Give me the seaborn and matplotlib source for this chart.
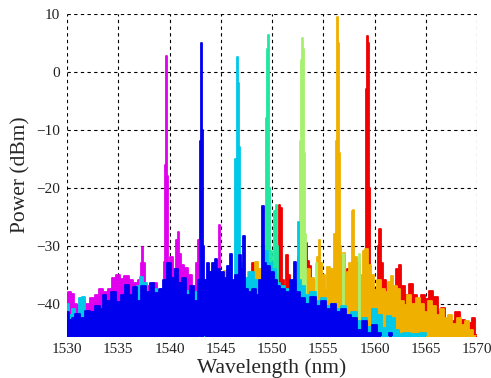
import matplotlib
matplotlib.use("Agg")
import matplotlib.pyplot as plt
import seaborn as sns
import pandas as pd

# ---------------- data (wavelength nm, power dBm) ----------------
x_ticks = [1530, 1535, 1540, 1545, 1550, 1555, 1560, 1565, 1570]
y_ticks = [-40, -30, -20, -10, 0, 10]

red_pts = [(1543.5, -47), (1543.7, -36.0), (1543.85, -34.5), (1544.05, -34.5), (1544.2, -38.0),
           (1545.0, -40.0), (1546.0, -40.0), (1547.0, -39.0), (1547.9, -38.0), (1548.15, -33.0),
           (1548.35, -33.5), (1548.5, -38.0), (1549.0, -38.0), (1549.7, -36.0), (1549.85, -33.0),
           (1550.1, -33.0), (1550.3, -36.0), (1550.6, -35.0), (1550.75, -23.0), (1550.9, -23.5),
           (1551.0, -36.0), (1551.3, -37.0), (1551.45, -31.6), (1551.6, -35.0), (1552.0, -38.0),
           (1552.4, -38.0), (1552.7, -32.0), (1553.0, -30.0), (1553.3, -29.6), (1553.5, -32.6),
           (1553.7, -33.5), (1553.9, -36.0), (1554.5, -38.0), (1555.5, -39.0), (1556.1, -40.0),
           (1556.3, -39.5), (1556.6, -41.0), (1557.2, -39.0), (1557.45, -34.0), (1557.6, -36.0),
           (1558.3, -38.0), (1559.0, -36.0), (1559.15, -33.0), (1559.2, -3.0), (1559.28, 5.0),
           (1559.35, 6.2), (1559.42, 5.0), (1559.48, -20.0), (1559.55, -35.0), (1559.8, -37.5),
           (1560.2, -38.0), (1560.4, -30.0), (1560.55, -27.2), (1560.7, -33.0), (1560.9, -36.0),
           (1561.3, -38.0), (1561.8, -38.0), (1562.3, -34.0), (1562.5, -33.3), (1562.7, -37.0),
           (1563.2, -38.5), (1563.6, -36.6), (1563.9, -38.5), (1564.3, -40.0), (1564.8, -38.5),
           (1565.1, -39.2), (1565.5, -37.8), (1566.0, -38.9), (1566.3, -41.5), (1566.7, -40.8),
           (1567.1, -42.8), (1567.6, -43.0), (1568.1, -41.4), (1568.6, -42.8), (1569.0, -44.0),
           (1569.4, -43.3), (1569.7, -42.5), (1570.0, -45.5)]

orange_pts = [(1544.0, -47), (1545.2, -40.0), (1545.4, -34.4), (1545.7, -36.0), (1545.9, -37.5),
              (1546.5, -39.0), (1547.5, -38.0), (1547.9, -34.5), (1548.2, -35.5), (1548.5, -32.8),
              (1548.8, -34.0), (1549.2, -37.0), (1549.9, -33.5), (1550.3, -33.5), (1550.6, -37.0),
              (1551.0, -39.0), (1551.5, -40.0), (1551.9, -38.5), (1552.3, -38.5), (1552.8, -35.0),
              (1553.2, -35.5), (1553.6, -34.0), (1553.9, -35.5), (1554.3, -36.0), (1554.55, -32.0),
              (1554.65, -29.0), (1554.8, -33.0), (1555.0, -35.0), (1555.3, -37.6), (1555.5, -33.6),
              (1555.9, -34.0), (1556.2, -28.0), (1556.3, -12.0), (1556.35, 2.0), (1556.42, 9.5),
              (1556.5, 5.0), (1556.55, -14.0), (1556.65, -30.0), (1556.8, -32.0), (1557.0, -31.2),
              (1557.2, -35.0), (1557.4, -34.5), (1557.7, -33.0), (1557.85, -24.0), (1557.95, -23.8),
              (1558.1, -32.0), (1558.4, -33.0), (1558.7, -35.0), (1559.0, -31.0), (1559.2, -30.5),
              (1559.5, -33.4), (1559.8, -35.0), (1560.1, -37.6), (1560.4, -36.0), (1560.8, -37.5),
              (1561.2, -38.0), (1561.5, -36.3), (1561.7, -35.3), (1562.0, -37.0), (1562.3, -37.5),
              (1562.7, -39.5), (1563.0, -40.3), (1563.4, -38.5), (1563.8, -40.0), (1564.2, -39.0),
              (1564.6, -40.0), (1565.0, -41.5), (1565.4, -39.5), (1565.8, -40.5), (1566.2, -42.0),
              (1566.6, -41.0), (1567.0, -42.5), (1567.4, -42.0), (1567.8, -43.5), (1568.2, -42.5),
              (1568.6, -43.7), (1569.0, -43.0), (1569.4, -44.5), (1569.8, -45.6), (1570.0, -47)]

lightgreen_pts = [(1552.0, -47), (1552.6, -47), (1552.7, -28.0), (1552.8, -12.0), (1552.9, 2.0),
                  (1553.0, 5.9), (1553.1, 4.0), (1553.2, -14.0), (1553.3, -28.0), (1553.4, -47),
                  (1554.25, -47), (1554.35, -33.0), (1554.45, -47), (1556.9, -47), (1557.0, -31.5),
                  (1557.1, -47), (1558.4, -47), (1558.5, -31.5), (1558.6, -47), (1570.0, -47)]

springgreen_pts = [(1548.8, -47), (1549.2, -38.0), (1549.35, -30.0), (1549.45, -8.0), (1549.55, 4.0),
                   (1549.62, 6.3), (1549.7, 5.0), (1549.78, -20.0), (1549.9, -31.0), (1550.1, -35.0),
                   (1550.3, -24.0), (1550.45, -22.9), (1550.55, -30.0), (1550.7, -38.0), (1551.5, -47),
                   (1570.0, -47)]

magenta_pts = [(1530.0, -39.0), (1530.2, -38.0), (1530.5, -38.3), (1530.8, -40.0), (1531.2, -40.5),
               (1531.6, -39.5), (1532.0, -40.0), (1532.5, -39.0), (1533.0, -38.5), (1533.3, -37.5),
               (1533.8, -38.0), (1534.2, -37.5), (1534.6, -35.5), (1535.0, -35.0), (1535.4, -35.7),
               (1535.8, -35.2), (1536.2, -36.0), (1536.7, -36.5), (1537.1, -36.0), (1537.3, -33.0),
               (1537.4, -30.2), (1537.5, -33.0), (1537.8, -37.0), (1538.2, -37.5), (1538.6, -36.5),
               (1539.0, -38.0), (1539.35, -37.5), (1539.5, -32.8), (1539.6, -16.0), (1539.65, 0.0),
               (1539.7, 2.8), (1539.75, -11.6), (1539.85, -18.0), (1539.95, -33.0), (1540.2, -32.0),
               (1540.5, -34.0), (1540.75, -29.0), (1540.85, -27.6), (1540.95, -31.5), (1541.2, -33.3),
               (1541.6, -33.8), (1542.0, -35.0), (1542.4, -37.0), (1542.7, -33.0), (1542.8, -29.0),
               (1542.9, -35.0), (1543.0, -38.0), (1543.5, -40.0), (1544.0, -40.0), (1544.75, -40.0),
               (1544.85, -26.4), (1544.95, -40.0), (1545.5, -40.0), (1546.0, -37.5), (1546.6, -38.0),
               (1547.0, -40.0), (1548.0, -42.0), (1549.0, -44.0), (1550.0, -47), (1570.0, -47)]

cyan_pts = [(1530.0, -40.0), (1530.3, -42.0), (1530.6, -41.0), (1531.0, -43.0), (1531.3, -39.0),
            (1531.6, -38.9), (1532.0, -42.0), (1532.5, -42.5), (1533.0, -41.5), (1533.4, -42.0),
            (1534.0, -40.5), (1535.0, -40.5), (1536.0, -39.5), (1536.3, -39.0), (1536.6, -41.0),
            (1537.0, -37.0), (1537.3, -35.4), (1537.6, -36.5), (1538.0, -38.5), (1538.6, -37.5),
            (1539.0, -37.8), (1539.4, -38.5), (1540.0, -36.5), (1540.3, -36.3), (1540.6, -38.0),
            (1541.0, -37.0), (1541.5, -38.5), (1541.9, -37.8), (1542.3, -39.0), (1542.7, -38.0),
            (1543.0, -40.0), (1543.3, -41.5), (1543.6, -41.5), (1544.0, -40.0), (1545.0, -39.0),
            (1545.8, -38.0), (1546.3, -37.0), (1546.5, -15.0), (1546.6, 2.5), (1546.7, -2.0),
            (1546.8, -13.0), (1546.9, -33.0), (1547.2, -37.0), (1547.6, -35.5), (1548.0, -34.5),
            (1548.4, -36.0), (1548.8, -37.5), (1549.2, -35.0), (1549.5, -31.0), (1549.8, -33.0),
            (1550.2, -34.0), (1550.6, -36.5), (1551.0, -37.0), (1551.5, -37.5), (1552.0, -38.5),
            (1552.45, -36.0), (1552.55, -26.0), (1552.7, -36.0), (1553.0, -37.0), (1553.5, -38.5),
            (1554.0, -38.0), (1554.5, -39.5), (1555.0, -39.0), (1555.5, -40.5), (1556.0, -40.0),
            (1556.5, -41.0), (1557.0, -40.5), (1557.5, -42.0), (1558.0, -41.5), (1558.5, -43.0),
            (1559.0, -42.5), (1559.5, -44.0), (1560.0, -41.0), (1560.5, -42.0), (1561.0, -44.3),
            (1561.4, -42.2), (1561.8, -42.5), (1562.2, -44.5), (1562.6, -45.3), (1563.0, -45.0),
            (1564.0, -45.3), (1564.8, -45.0), (1565.2, -47), (1570.0, -47)]

blue_pts = [(1530.0, -41.5), (1530.3, -42.8), (1530.6, -42.5), (1531.0, -41.8), (1531.5, -42.5),
            (1532.0, -41.2), (1532.5, -41.5), (1533.0, -40.5), (1533.4, -41.0), (1533.6, -38.5),
            (1534.0, -39.5), (1534.5, -38.0), (1535.0, -39.8), (1535.5, -38.5), (1535.8, -36.8),
            (1536.2, -38.5), (1536.6, -37.2), (1537.0, -39.5), (1537.5, -37.0), (1537.9, -38.0),
            (1538.3, -36.5), (1538.7, -38.2), (1539.2, -37.5), (1539.6, -36.0), (1540.0, -33.0),
            (1540.3, -35.5), (1540.7, -34.0), (1541.0, -36.5), (1541.4, -35.5), (1541.8, -38.5),
            (1542.2, -37.0), (1542.6, -39.5), (1542.9, -36.0), (1543.05, -12.0), (1543.15, 5.0),
            (1543.25, -10.0), (1543.35, -30.0), (1543.45, -47), (1543.55, -36.0), (1543.7, -33.0),
            (1544.0, -34.5), (1544.3, -33.0), (1544.55, -32.3), (1544.8, -34.0), (1545.1, -34.5),
            (1545.5, -35.5), (1545.8, -33.5), (1546.0, -31.4), (1546.2, -36.0), (1546.6, -35.0),
            (1546.9, -31.7), (1547.1, -34.0), (1547.3, -28.3), (1547.5, -37.5), (1547.8, -38.0),
            (1548.2, -37.5), (1548.6, -38.5), (1548.9, -36.0), (1549.1, -23.2), (1549.3, -33.0),
            (1549.6, -33.5), (1550.0, -34.5), (1550.3, -36.0), (1550.6, -37.0), (1551.0, -37.5),
            (1551.5, -38.0), (1552.0, -36.0), (1552.25, -32.9), (1552.5, -38.0), (1553.0, -39.0),
            (1553.5, -40.0), (1554.0, -38.8), (1554.5, -40.5), (1555.0, -39.5), (1555.5, -41.0),
            (1556.0, -40.0), (1556.5, -41.5), (1557.0, -41.0), (1557.5, -42.0), (1558.0, -42.5),
            (1558.5, -44.5), (1559.0, -43.0), (1559.5, -45.0), (1560.0, -43.7), (1560.4, -45.0),
            (1560.8, -47), (1561.3, -47), (1561.6, -45.0), (1561.9, -47), (1570.0, -47)]

# back-to-front drawing order
layers = [red_pts, orange_pts, lightgreen_pts, springgreen_pts, magenta_pts, cyan_pts, blue_pts]
colors = ["#f00000", "#f0b000", "#a8f070", "#20e8a0", "#e000ee", "#00c8e8", "#0000ee"]

# ---------------- plotting ----------------
sns.set_theme(style="white")
plt.rcParams['font.family'] = ['Liberation Serif', 'DejaVu Serif']

fig = plt.figure(figsize=(4.91, 3.78), dpi=100)
ax = fig.add_axes([67 / 491, 1 - 336 / 378, 410 / 491, 322 / 378])

for i, (pts, c) in enumerate(zip(layers, colors)):
    df = pd.DataFrame(pts, columns=["wl", "db"])
    ax.fill_between(df["wl"], df["db"], -50, step="mid", color=c, lw=0, zorder=2 + 2 * i)
    sns.lineplot(data=df, x="wl", y="db", ax=ax, color=c, lw=1.3, drawstyle="steps-mid",
                 estimator=None, sort=False, zorder=3 + 2 * i)

ax.set_xlim(1530, 1570)
ax.set_ylim(-45.6, 10)
ax.set_xticks(x_ticks)
ax.set_yticks(y_ticks)
ax.set_axisbelow(True)
ax.grid(True, color="black", linestyle=(0, (3, 3)), lw=0.8)
for s in ax.spines.values():
    s.set_visible(False)
ax.tick_params(length=0, pad=5, labelsize=11, colors="#222222")
ax.set_xlabel("Wavelength (nm)", fontsize=15.5, labelpad=2)
ax.set_ylabel("Power (dBm)", fontsize=15.5, labelpad=4)

fig.savefig("out.png", dpi=100)
